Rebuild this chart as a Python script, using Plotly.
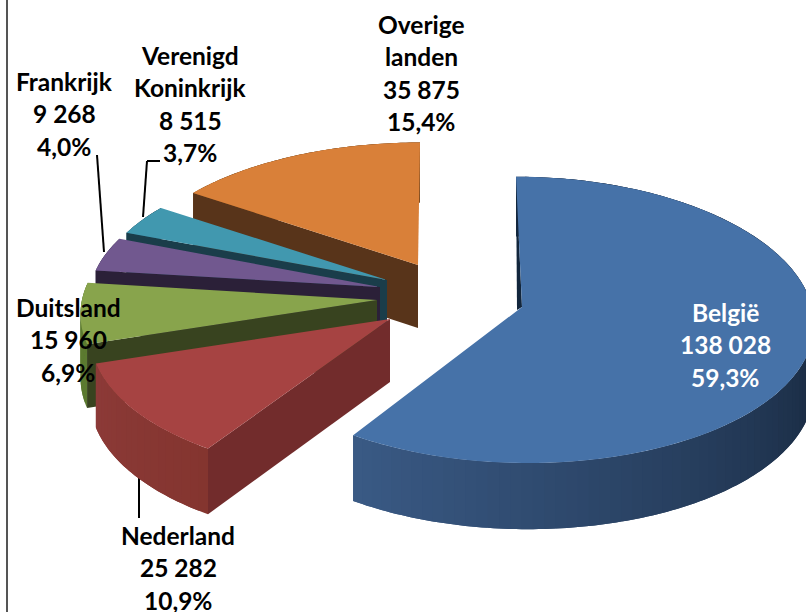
import numpy as np
import plotly.graph_objects as go

# ---- data ----
categories = [["België"], ["Nederland"], ["Duitsland"], ["Frankrijk"],
              ["Verenigd", "Koninkrijk"], ["Overige", "landen"]]
values = [138028, 25282, 15960, 9268, 8515, 35875]
percents = ["59,3%", "10,9%", "6,9%", "4,0%", "3,7%", "15,4%"]

# ---- colours ----
top_colors = ["#4672A8", "#A64342", "#88A44C", "#71588F", "#4198AF", "#D98039"]
face_colors = ["#12263C", "#722C2C", "#38431F", "#2B2038", "#1A3D4A", "#58341A"]
rim_start = ["#1A2C44", "#84352F", "#5C7A30", "#3F3155", "#24505F", "#7A4A20"]
rim_end = ["#3A5A85", "#8C3A38", "#5C7A30", "#3F3155", "#24505F", "#7A4A20"]
rim_fade_from = [0.5, 0, 0, 0, 0, 0]
label_colors = ["white", "black", "black", "black", "black", "black"]

# ---- per-slice layout (pixels of the 806x612 canvas) ----
apex_x = [522, 390, 377, 380, 387, 418]
apex_y = [307, 319, 300, 287, 280, 265]
rad_x = [290, 298, 295, 290, 290, 290]
rad_y = [1.0, 1.01, 1.0, 0.96, 0.94, 0.94]
skew = [-6, 4, 0, 0, 0, 2]
DEPTH = 63
DEPTH_K = 0.05
AY, KY, KX = 142.0, 0.09, 0.10

label_x = [725, 178, 68, 64, 190, 421]
label_y = [312, 535, 307, 81, 55, 24]
LINE_H = 32.5
FONT = "Lato"
FONT_SIZE = 24.5

leaders = [[(97, 155), (104, 252)],
           [(160, 161), (147, 161), (143, 217)],
           [(139, 472), (139, 518)]]


def depth(theta):
    return DEPTH * (1 - DEPTH_K * np.cos(theta))


def proj(i, theta):
    d = -np.cos(theta)
    s = np.sin(theta)
    x = apex_x[i] + rad_x[i] * s / (1 - KX * d) + skew[i] * (-d)
    y = apex_y[i] + rad_y[i] * AY * d / (1 - KY * d)
    return x, y


def mix(c1, c2, t):
    a = [int(c1[j:j + 2], 16) for j in (1, 3, 5)]
    b = [int(c2[j:j + 2], 16) for j in (1, 3, 5)]
    return "#%02x%02x%02x" % tuple(round(p + (q - p) * t) for p, q in zip(a, b))


def poly(fig, xs, ys, color):
    fig.add_trace(go.Scatter(x=list(xs), y=list(ys), mode="none", fill="toself",
                             fillcolor=color, hoverinfo="skip", showlegend=False))


fig = go.Figure()
total = sum(values)
edges = np.concatenate([[0], np.cumsum(values)]) / total * 2 * np.pi

# painter's order: back slices first, België last
for i in [5, 4, 3, 2, 1, 0]:
    t0, t1 = edges[i], edges[i + 1]
    ax, ay = apex_x[i], apex_y[i]
    # outer rim, shaded in overlapping strips
    nseg = max(4, int((t1 - t0) / np.radians(2)))
    bounds = np.linspace(t0, t1, nseg + 1)
    for k in range(nseg):
        end = bounds[min(k + 2, nseg)]
        th = np.linspace(bounds[k], end, 5)
        px, py = proj(i, th)
        f = (k + 0.5) / nseg
        f = max(0.0, (f - rim_fade_from[i]) / (1 - rim_fade_from[i]))
        poly(fig,
             np.concatenate([px, px[::-1], px[:1]]),
             np.concatenate([py, (py + depth(th))[::-1], py[:1]]),
             mix(rim_start[i], rim_end[i], f))
    # radial cut face at the start angle
    sx, sy = proj(i, t0)
    if i == 0:
        poly(fig, [sx, ax, ax - 5, sx], [sy, ay, ay + 3, sy], face_colors[i])
    else:
        poly(fig, [ax, sx, sx, ax, ax],
             [ay, sy, sy + depth(t0), ay + DEPTH, ay], face_colors[i])
    # top surface
    th = np.linspace(t0, t1, 80)
    px, py = proj(i, th)
    poly(fig, np.concatenate([[ax], px, [ax]]), np.concatenate([[ay], py, [ay]]), top_colors[i])

shapes = [dict(type="line", x0=7, x1=7, y0=0, y1=612, xref="x", yref="y",
               line=dict(color="#555555", width=2))]
for pts in leaders:
    for (x0, y0), (x1, y1) in zip(pts[:-1], pts[1:]):
        shapes.append(dict(type="line", x0=x0, y0=y0, x1=x1, y1=y1, xref="x", yref="y",
                           layer="below", line=dict(color="black", width=2)))

annotations = []
for i, name in enumerate(categories):
    lines = name + [f"{values[i]:,}".replace(",", " "), percents[i]]
    for n, text in enumerate(lines):
        annotations.append(dict(x=label_x[i], y=label_y[i] + n * LINE_H, text=f"<b>{text}</b>",
                                xref="x", yref="y", showarrow=False,
                                xanchor="center", yanchor="middle",
                                font=dict(family=FONT, size=FONT_SIZE, color=label_colors[i])))

fig.update_layout(
    width=806, height=612, margin=dict(l=0, r=0, t=0, b=0),
    paper_bgcolor="white", plot_bgcolor="white", showlegend=False,
    xaxis=dict(range=[0, 806], visible=False, fixedrange=True),
    yaxis=dict(range=[612, 0], visible=False, fixedrange=True),
    shapes=shapes, annotations=annotations,
)
fig.write_html("out.html", config={"displayModeBar": False},
               post_script="document.body.style.margin='0';document.body.style.overflow='hidden';")
